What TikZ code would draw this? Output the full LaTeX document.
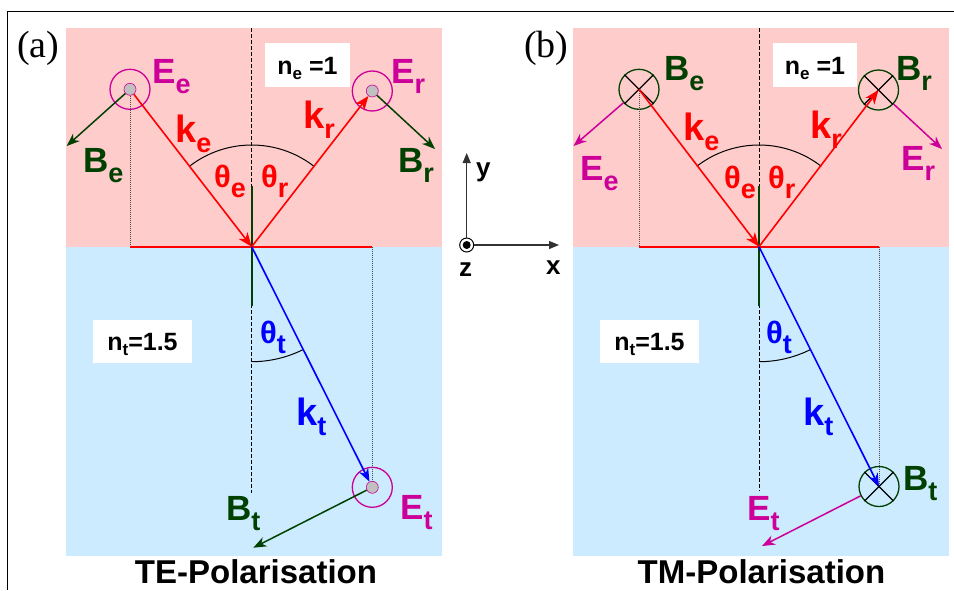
\documentclass[tikz,border=0pt]{standalone}
\usepackage{fontspec}
\setmainfont{Liberation Sans}
\newfontfamily\serifpanel{Liberation Serif}
\usetikzlibrary{arrows.meta}
\definecolor{pinkbg}{RGB}{255,204,204}
\definecolor{bluebg}{RGB}{204,235,255}
\definecolor{dkgreen}{RGB}{0,64,0}
\definecolor{magen}{RGB}{204,0,153}
\definecolor{dotgray}{RGB}{192,192,192}
\definecolor{axgray}{RGB}{50,50,50}
\newcommand\sublab[3][35]{{\fontsize{#1}{#1}\selectfont #2}{\fontsize{27}{27}\selectfont\raisebox{-10pt}{#3}}}
\newcommand\nsub[2]{#1{\fontsize{17}{17}\selectfont\raisebox{-5pt}{#2}}}
\tikzset{
  lab/.style={inner sep=0pt, anchor=base west, font=\bfseries},
  kred/.style={red, line width=1.6pt, -{Stealth[length=14pt,width=11pt,inset=4pt]}},
  kblue/.style={blue, line width=1.6pt, -{Stealth[length=13pt,width=10pt,inset=4pt]}},
  bgr/.style={dkgreen, line width=1.5pt, -{Stealth[length=13pt,width=10pt,inset=4pt]}},
  emag/.style={magen, line width=1.5pt, -{Stealth[length=13pt,width=10pt,inset=4pt]}},
  ecirc/.style={circle, draw=magen, line width=1.3pt, minimum size=40pt, inner sep=0pt},
  edot/.style={circle, fill=dotgray, draw=magen, line width=0.6pt, minimum size=12pt, inner sep=0pt},
  bcirc/.style={circle, draw=dkgreen, line width=1.3pt, minimum size=40pt, inner sep=0pt},
  crossln/.style={black, line width=1.2pt},
  nbox/.style={fill=white, inner sep=0pt, font=\bfseries\fontsize{25}{25}\selectfont, text height=18pt, text depth=0pt},
  capt/.style={inner sep=0pt, anchor=base, font=\bfseries\fontsize{33}{33}\selectfont},
  plab/.style={inner sep=0pt, anchor=base west, font={\serifpanel\fontsize{38}{38}\selectfont}},
  normline/.style={black, line width=0.8pt, dash pattern=on 4pt off 2pt},
  dotln/.style={black!70, line width=0.6pt, dash pattern=on 1pt off 1pt},
  iface/.style={red, line width=1.6pt},
  gvert/.style={dkgreen, line width=2.2pt},
  angarc/.style={black, line width=1pt},
  axarr/.style={axgray, line width=1.2pt, -{Triangle[length=10pt,width=8pt]}},
  axlab/.style={inner sep=0pt, anchor=base west, font=\bfseries\fontsize{26}{26}\selectfont},
}
\begin{document}
\begin{tikzpicture}[x=1pt,y=-1pt]
\useasboundingbox (0,0) rectangle (954,590);
% frame
\coordinate (FrTL) at (7,11);
\coordinate (FrTR) at (954,11);
\coordinate (FrBL) at (7,590);
\draw[black, line width=1pt] (FrTR) -- (FrTL) -- (FrBL);
% ================= panel (a) =================
\fill[pinkbg] (66,28) rectangle (442,246.7);
\fill[bluebg] (66,246.7) rectangle (442,556);
\coordinate (Oa) at (251.7,246.7);
\coordinate (DaT) at (251.7,28);
\coordinate (DaB) at (251.7,493);
\coordinate (GaT) at (251.7,186);
\coordinate (GaB) at (251.7,306);
\node[nbox, minimum width=85pt, minimum height=43.4pt] (neA) at (307.5,65) {\nsub{n}{e} =1};
\node[nbox, minimum width=98.4pt, minimum height=43.3pt] (ntA) at (142.5,341.7) {\nsub{n}{t}=1.5};
\draw[normline] (DaT) -- (DaB);
\node[ecirc] (Ee) at (130,89.3) {};
\node[ecirc] (Er) at (372.3,91) {};
\node[ecirc] (Et) at (372.3,487.3) {};
\node[edot] (Eed) at (Ee) {};
\node[edot] (Erd) at (Er) {};
\node[edot] (Etd) at (Et) {};
\draw[dotln] (Eed) -- (Ee |- Oa);
\draw[dotln] (Er |- Oa) -- (Etd);
\draw[iface] (Ee |- Oa) -- (Er |- Oa);
\draw[gvert] (GaT) -- (GaB);
\draw[angarc] (Oa) ++(127.7:101.7pt) arc[start angle=127.7, end angle=52.2, radius=101.7pt];
\draw[angarc] (Oa) ++(270:115pt) arc[start angle=270, end angle=296.6, radius=115pt];
\draw[kred] (Eed) -- (Oa);
\draw[kred] (Oa) -- (Erd);
\draw[kblue] (Oa) -- (Etd);
\coordinate (BeA) at (66.7,146);
\coordinate (BrA) at (435,149);
\coordinate (BtA) at (253.3,547.7);
\draw[bgr] (Eed) -- (BeA);
\draw[bgr] (Erd) -- (BrA);
\draw[bgr] (Etd) -- (BtA);
\node[lab, magen] (lEeA) at (152,83) {\sublab{E}{e}};
\node[lab, magen] (lErA) at (391,83) {\sublab{E}{r}};
\node[lab, magen] (lEtA) at (400,519) {\sublab{E}{t}};
\node[lab, dkgreen] (lBeA) at (83,172) {\sublab{B}{e}};
\node[lab, dkgreen] (lBrA) at (398,172) {\sublab{B}{r}};
\node[lab, dkgreen] (lBtA) at (226,520) {\sublab{B}{t}};
\node[lab, red] (lkeA) at (175,142) {\sublab[38]{k}{e}};
\node[lab, red] (lkrA) at (303,128) {\sublab[38]{k}{r}};
\node[lab, blue] (lktA) at (296,425) {\sublab[38]{k}{t}};
\node[lab, red] (lteA) at (214,187) {\sublab[31]{θ}{e}};
\node[lab, red] (ltrA) at (261,187) {\sublab[31]{θ}{r}};
\node[lab, blue] (lttA) at (260,343) {\sublab[31]{θ}{t}};
\node[capt] (capA) at (256,583) {TE-Polarisation};
\node[plab] (pA) at (17,57) {(a)};
% ================= axes =================
\node[circle, draw=black, line width=1pt, minimum size=14pt, inner sep=0pt] (zc) at (466.7,245) {};
\fill[black] (zc.center) circle[radius=4pt];
\coordinate (ayE) at (466.7,153);
\coordinate (axE) at (559,245);
\draw[axarr] (zc) -- (ayE);
\draw[axarr] (zc) -- (axE);
\node[axlab] (ly) at (476,176) {y};
\node[axlab] (lx) at (546,274) {x};
\node[axlab] (lz) at (459,276) {z};
% ================= panel (b) =================
\fill[pinkbg] (572.7,28) rectangle (949,246.7);
\fill[bluebg] (572.7,246.7) rectangle (949,556);
\coordinate (Ob) at (759,246.7);
\coordinate (DbT) at (759,28);
\coordinate (DbB) at (759,491);
\coordinate (GbT) at (759,186);
\coordinate (GbB) at (759,306);
\node[nbox, minimum width=83.4pt, minimum height=43.4pt] (neB) at (815,65) {\nsub{n}{e} =1};
\node[nbox, minimum width=99pt, minimum height=43.3pt] (ntB) at (649.5,341.7) {\nsub{n}{t}=1.5};
\draw[normline] (DbT) -- (DbB);
\node[bcirc] (Bbe) at (639,89.3) {};
\node[bcirc] (Bbr) at (878.5,90) {};
\node[bcirc] (Bbt) at (879,486.5) {};
\draw[dotln] (Bbe.center) -- (Bbe |- Ob);
\draw[dotln] (Bbt |- Ob) -- (Bbt.center);
\draw[iface] (Bbe |- Ob) -- (Bbt |- Ob);
\draw[gvert] (GbT) -- (GbB);
\draw[angarc] (Ob) ++(127.7:101.7pt) arc[start angle=127.7, end angle=52.2, radius=101.7pt];
\draw[angarc] (Ob) ++(270:115pt) arc[start angle=270, end angle=296.6, radius=115pt];
\draw[crossln] (Bbe.north west) -- (Bbe.south east);
\draw[crossln] (Bbe.north east) -- (Bbe.south west);
\draw[crossln] (Bbr.north west) -- (Bbr.south east);
\draw[crossln] (Bbr.north east) -- (Bbr.south west);
\draw[crossln] (Bbt.north west) -- (Bbt.south east);
\draw[crossln] (Bbt.north east) -- (Bbt.south west);
\draw[kred] (Bbe.center) -- (Ob);
\draw[kred] (Ob) -- (Bbr.center);
\draw[kblue] (Ob) -- (Bbt.center);
\coordinate (EeB) at (573.5,146);
\coordinate (ErB) at (942,149);
\coordinate (EtB) at (762,546);
\draw[emag] (Bbe) -- (EeB);
\draw[emag] (Bbr) -- (ErB);
\draw[emag] (Bbt) -- (EtB);
\node[lab, dkgreen] (lBeB) at (664,80) {\sublab{B}{e}};
\node[lab, dkgreen] (lBrB) at (896,80) {\sublab{B}{r}};
\node[lab, dkgreen] (lBtB) at (903,490) {\sublab{B}{t}};
\node[lab, magen] (lEeB) at (580,180) {\sublab{E}{e}};
\node[lab, magen] (lErB) at (901,170) {\sublab{E}{r}};
\node[lab, magen] (lEtB) at (747,520) {\sublab{E}{t}};
\node[lab, red] (lkeB) at (683,140) {\sublab[38]{k}{e}};
\node[lab, red] (lkrB) at (810,138) {\sublab[38]{k}{r}};
\node[lab, blue] (lktB) at (803,425) {\sublab[38]{k}{t}};
\node[lab, red] (lteB) at (724,188) {\sublab[31]{θ}{e}};
\node[lab, red] (ltrB) at (768,188) {\sublab[31]{θ}{r}};
\node[lab, blue] (lttB) at (766,343) {\sublab[31]{θ}{t}};
\node[capt] (capB) at (761.5,583) {TM-Polarisation};
\node[plab] (pB) at (524,57) {(b)};
\end{tikzpicture}
\end{document}
